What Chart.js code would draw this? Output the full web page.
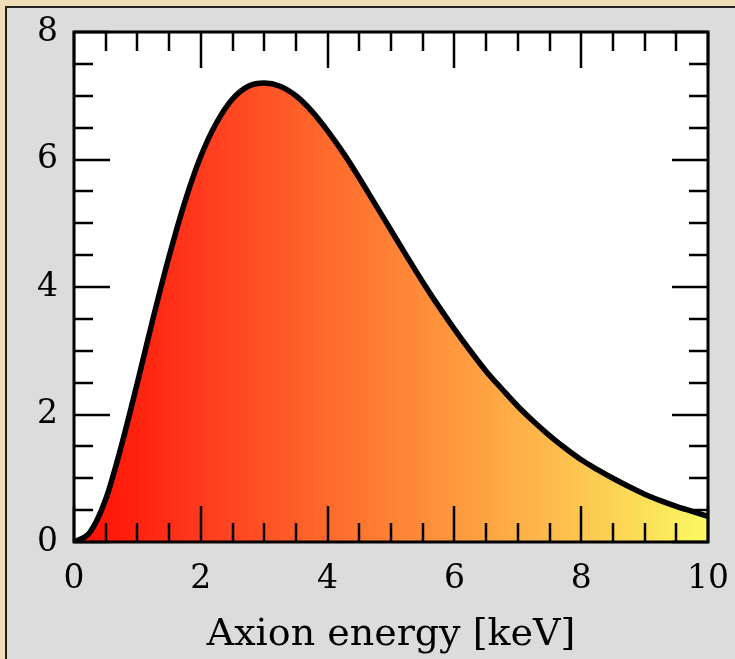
<!DOCTYPE html>
<html>
<head>
<meta charset="utf-8">
<script src="https://cdn.jsdelivr.net/npm/chart.js@4"></script>
<style>
    html, body { margin: 0; padding: 0; }
    body { width: 735px; height: 659px; background: #f0deb9; position: relative; overflow: hidden; }
    #panel { position: absolute; left: 5px; top: 6px; width: 760px; height: 700px;
             background: #dcdcdc; border-top: 2px solid #222; border-left: 2px solid #222; }
    #chart { position: absolute; left: 0; top: 0; }
</style>
</head>
<body>
<div id="panel"></div>
<canvas id="chart" width="735" height="659"></canvas>
<script>
// axion spectrum, every 0.25 keV
const energies = [
    0, 0.25, 0.5, 0.75, 1, 1.25, 1.5, 1.75, 2, 2.25,
    2.5, 2.75, 3, 3.25, 3.5, 3.75, 4, 4.25, 4.5, 4.75,
    5, 5.25, 5.5, 5.75, 6, 6.25, 6.5, 6.75, 7, 7.25,
    7.5, 7.75, 8, 8.25, 8.5, 8.75, 9, 9.25, 9.5, 9.75, 10
];
const flux = [
    0, 0.15, 0.67, 1.52, 2.50, 3.52, 4.48, 5.34, 6.05, 6.58,
    6.95, 7.15, 7.20, 7.15, 7.00, 6.76, 6.45, 6.10, 5.71, 5.30,
    4.89, 4.48, 4.08, 3.70, 3.34, 3.00, 2.68, 2.40, 2.13, 1.89,
    1.67, 1.47, 1.29, 1.14, 1.00, 0.87, 0.75, 0.65, 0.56, 0.48, 0.40
];
const xTicks = [0, 2, 4, 6, 8, 10];
const yTicks = [0, 2, 4, 6, 8];
const xTitle = 'Axion energy [keV]';

const gradientStops = [
    [0.0, '#ff0c00'],
    [0.2, '#ff3a1e'],
    [0.4, '#fe6a2c'],
    [0.6, '#fe983e'],
    [0.8, '#fdc650'],
    [1.0, '#fafa62']
];

function fillGradient(context) {
    const chart = context.chart;
    const area = chart.chartArea;
    if (!area) return '#ff6a2c';
    const g = chart.ctx.createLinearGradient(area.left, 0, area.right, 0);
    gradientStops.forEach(s => g.addColorStop(s[0], s[1]));
    return g;
}

// white plot area, then inward ticks + frame like the original plot
const framePlugin = {
    id: 'frame',
    beforeDatasetsDraw(chart) {
        const { ctx, chartArea: a } = chart;
        ctx.save();
        ctx.fillStyle = '#ffffff';
        ctx.fillRect(a.left, a.top, a.right - a.left, a.bottom - a.top);
        ctx.restore();
    },
    afterDatasetsDraw(chart) {
        const { ctx, chartArea: a, scales } = chart;
        const xs = scales.x, ys = scales.y;
        ctx.save();
        ctx.strokeStyle = '#000';
        ctx.lineWidth = 2.5;
        ctx.beginPath();
        for (let i = 0; i <= 20; i++) {
            const v = i * 0.5;
            const len = (v % 2 === 0) ? 36 : 19;
            const px = Math.round(xs.getPixelForValue(v));
            ctx.moveTo(px, a.bottom); ctx.lineTo(px, a.bottom - len);
            ctx.moveTo(px, a.top); ctx.lineTo(px, a.top + len);
        }
        for (let i = 0; i <= 16; i++) {
            const v = i * 0.5;
            const len = (v % 2 === 0) ? 36 : 19;
            const py = Math.round(ys.getPixelForValue(v));
            ctx.moveTo(a.left, py); ctx.lineTo(a.left + len, py);
            ctx.moveTo(a.right, py); ctx.lineTo(a.right - len, py);
        }
        ctx.stroke();
        ctx.lineWidth = 3;
        ctx.strokeRect(a.left, a.top, a.right - a.left, a.bottom - a.top);
        ctx.restore();
    }
};

Chart.defaults.font.family = '"DejaVu Serif", serif';
Chart.defaults.color = '#000';

new Chart(document.getElementById('chart'), {
    type: 'line',
    data: {
        datasets: [{
            data: energies.map((e, i) => ({ x: e, y: flux[i] })),
            borderColor: '#000',
            borderWidth: 5.5,
            backgroundColor: fillGradient,
            fill: 'origin',
            pointRadius: 0,
            cubicInterpolationMode: 'monotone'
        }]
    },
    options: {
        responsive: false,
        animation: false,
        layout: { padding: { top: 32, right: 27, left: 0, bottom: 0 } },
        plugins: { legend: { display: false }, tooltip: { enabled: false } },
        scales: {
            x: {
                type: 'linear',
                min: 0, max: 10,
                grid: { display: false, drawTicks: false },
                border: { display: false },
                afterBuildTicks: s => { s.ticks = xTicks.map(v => ({ value: v })); },
                afterFit: s => { s.height = 117; s.paddingLeft = 0; s.paddingRight = 0; },
                ticks: { font: { size: 33 }, padding: 18, maxRotation: 0 },
                title: { display: true, text: xTitle, font: { size: 38 }, padding: { top: 0, bottom: 1 } }
            },
            y: {
                type: 'linear',
                min: 0, max: 8,
                grid: { display: false, drawTicks: false },
                border: { display: false },
                afterBuildTicks: s => { s.ticks = yTicks.map(v => ({ value: v })); },
                afterFit: s => { s.width = 74; s.paddingTop = 0; s.paddingBottom = 0; },
                ticks: { font: { size: 33 }, padding: 16 }
            }
        }
    },
    plugins: [framePlugin]
});
</script>
</body>
</html>
